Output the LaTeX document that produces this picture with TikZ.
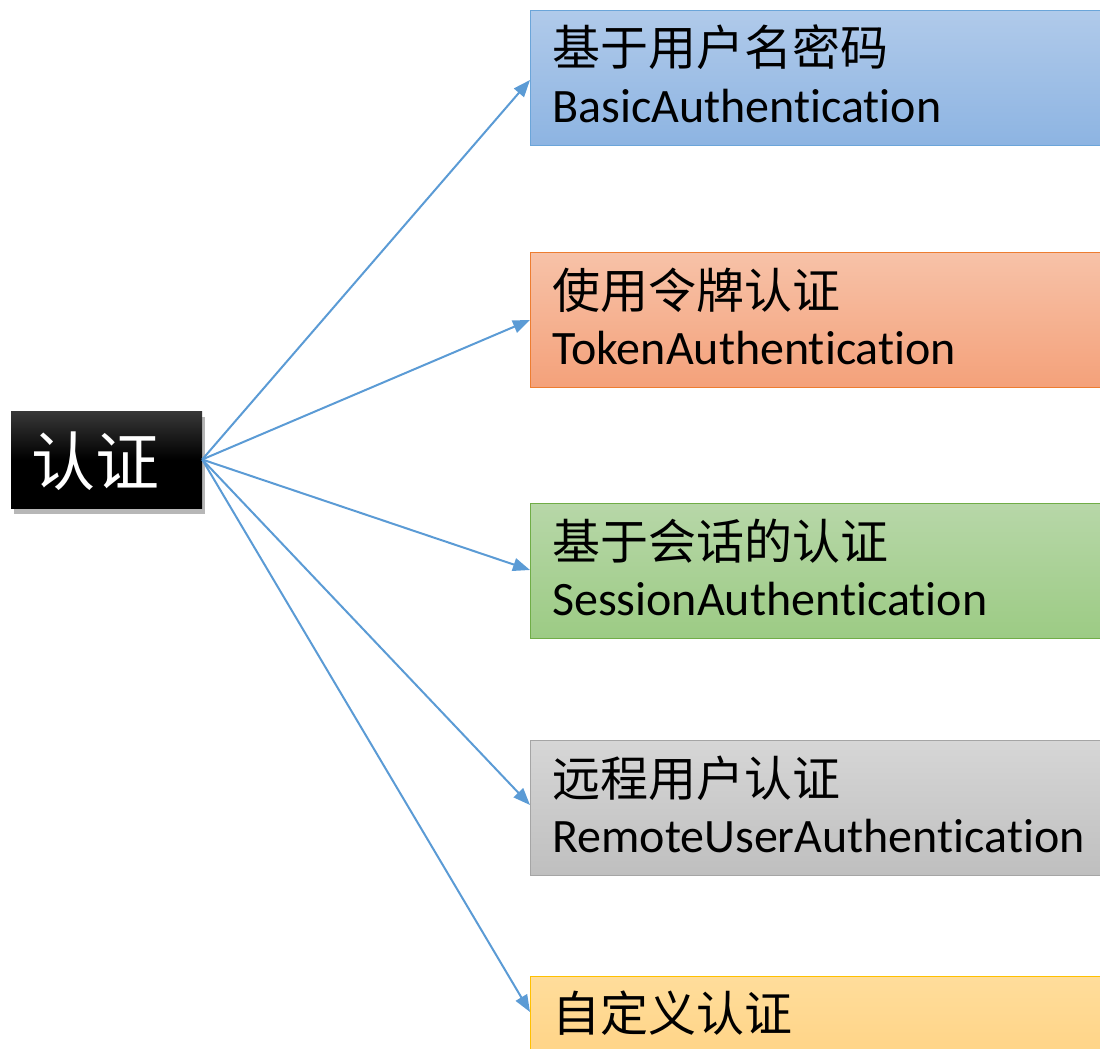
\documentclass[tikz,border=0pt]{standalone}
\usepackage{fontspec}
\setmainfont{Carlito}[Ligatures={NoCommon}]
\newfontfamily\cjk{Noto Sans CJK SC}
\usetikzlibrary{shadows,calc,arrows.meta}
\definecolor{arrowblue}{HTML}{5B9BD5}
\begin{document}
\begin{tikzpicture}[x=1pt,y=-1pt,
  catbox/.style={draw, line width=1.3pt, anchor=north west, inner sep=0pt,
    minimum width=620pt, minimum height=135pt, shading=axis, shading angle=0},
  zhtext/.style={anchor=base west, inner sep=0pt, font=\cjk\fontsize{48}{56}\selectfont},
  entext/.style={anchor=base west, inner sep=0pt, font=\fontsize{48}{56}\selectfont},
  conn/.style={draw=arrowblue, line width=2pt, -{Triangle[length=17pt,width=13pt]}},
]
\useasboundingbox (0,0) rectangle (1100,1049);
\clip (0,0) rectangle (1100,1049);

% root
\node[draw=none, minimum width=191pt, minimum height=97pt, inner sep=0pt,
  top color=black!78, bottom color=black, middle color=black,
  drop shadow={shadow xshift=3pt, shadow yshift=-6pt, opacity=0.4, fill=black!70}]
  (root) at (106.5,459.5) {};
\node[inner sep=0pt, text=white, font=\cjk\fontsize{64}{70}\selectfont] (roottext) at (95,461) {认证};

% category boxes
\node[catbox, draw=arrowblue!90, top color={rgb,255:red,176;green,202;blue,234}, bottom color={rgb,255:red,141;green,180;blue,226}] (b1) at (530,10) {};
\node[catbox, draw={rgb,255:red,237;green,125;blue,49}, top color={rgb,255:red,247;green,194;blue,168}, bottom color={rgb,255:red,244;green,161;blue,122}] (b2) at (530,252) {};
\node[catbox, draw={rgb,255:red,112;green,173;blue,71}, top color={rgb,255:red,183;green,215;blue,168}, bottom color={rgb,255:red,156;green,203;blue,132}] (b3) at (530,503) {};
\node[catbox, draw={rgb,255:red,165;green,165;blue,165}, top color={rgb,255:red,214;green,214;blue,214}, bottom color={rgb,255:red,191;green,191;blue,191}] (b4) at (530,740) {};
\node[catbox, draw={rgb,255:red,255;green,192;blue,0}, top color={rgb,255:red,255;green,221;blue,155}, bottom color={rgb,255:red,255;green,205;blue,120}] (b5) at (530,976) {};

% texts
\node[zhtext] (z1) at ($(b1.north west)+(22,56)$) {基于用户名密码};
\node[entext] (e1) at ($(b1.north west)+(22,112)$) {BasicAuthentication};
\node[zhtext] (z2) at ($(b2.north west)+(22,56)$) {使用令牌认证};
\node[entext] (e2) at ($(b2.north west)+(22,112)$) {TokenAuthentication};
\node[zhtext] (z3) at ($(b3.north west)+(22,56)$) {基于会话的认证};
\node[entext] (e3) at ($(b3.north west)+(22,112)$) {SessionAuthentication};
\node[zhtext] (z4) at ($(b4.north west)+(22,56)$) {远程用户认证};
\node[entext] (e4) at ($(b4.north west)+(22,112)$) {RemoteUserAuthentication};
\node[zhtext] (z5) at ($(b5.north west)+(22,55)$) {自定义认证};

% connectors
\coordinate (t1) at ($(b1.north west)+(0,70)$);
\coordinate (t2) at ($(b2.north west)+(0,68)$);
\coordinate (t3) at ($(b3.north west)+(0,67)$);
\coordinate (t4) at ($(b4.north west)+(0,65)$);
\coordinate (t5) at ($(b5.north west)+(0,36)$);
\foreach \t in {t1,t2,t3,t4,t5} \draw[conn] (root.east) -- (\t);
\end{tikzpicture}
\end{document}
